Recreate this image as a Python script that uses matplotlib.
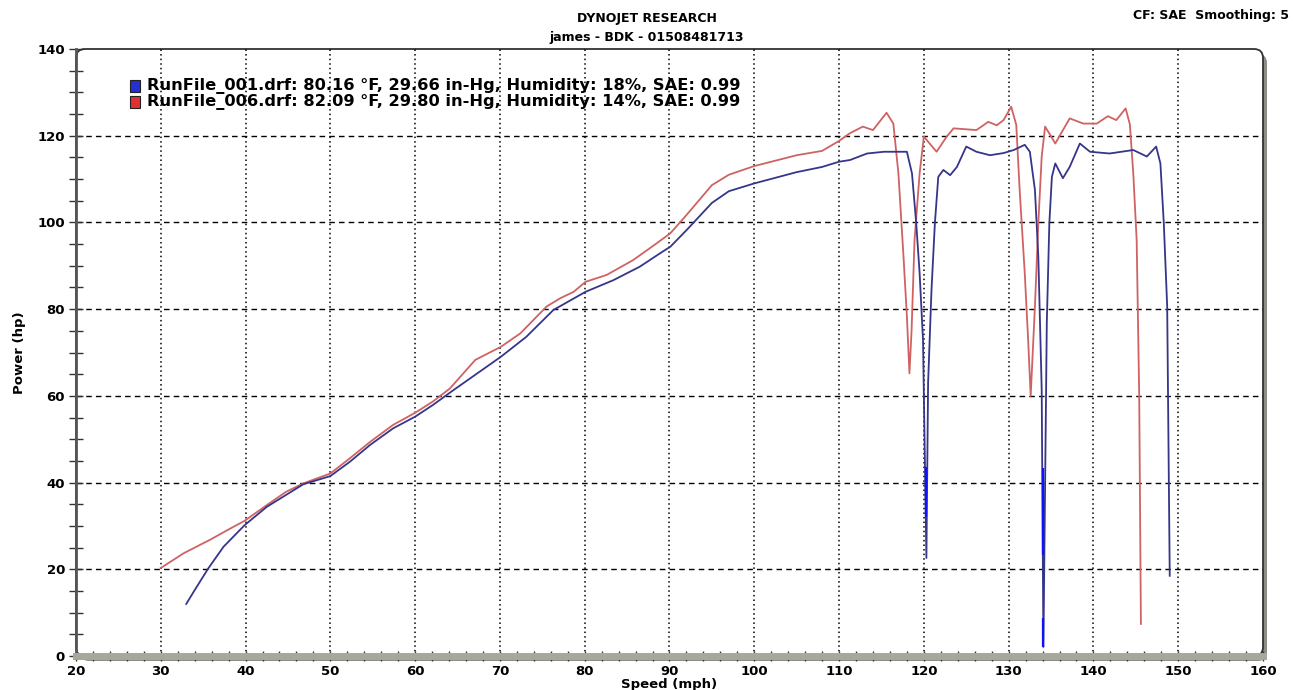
import matplotlib
matplotlib.use('Agg')
import matplotlib.pyplot as plt
from matplotlib.patches import FancyBboxPatch, Rectangle
from matplotlib.transforms import IdentityTransform

# RunFile_001 (blue)
speed_001 = [33.0, 34.0, 35.6, 37.4, 39.9, 42.5, 46.8, 50.0, 52.3, 54.7, 57.4, 60.0, 62.1,
             64.5, 70.1, 73.1, 76.3, 80.1, 83.4, 86.5, 88.9, 90.1, 92.0, 95.0, 97.0, 100.0,
             105.0, 108.0, 110.0, 111.3, 113.3, 115.3, 118.0, 118.6, 119.1, 119.5, 119.9,
             120.3, 120.5, 120.9, 121.3, 121.7, 122.3, 123.1, 123.9, 125.0, 126.2, 127.8,
             129.4, 130.6, 131.9, 132.5, 133.1, 133.5, 133.7, 133.9, 134.1, 134.5, 134.8,
             135.1, 135.5, 136.4, 137.2, 138.4, 139.6, 141.9, 144.7, 146.3, 147.4, 147.9,
             148.3, 148.7, 149.0]
power_001 = [12.0, 15.2, 20.2, 25.2, 30.2, 34.4, 39.6, 41.5, 44.8, 48.7, 52.5, 55.2, 57.9,
             61.3, 69.0, 73.6, 79.8, 84.0, 86.7, 89.8, 92.9, 94.4, 98.2, 104.5, 107.2, 109.0,
             111.6, 112.8, 114.0, 114.4, 115.9, 116.3, 116.3, 111.3, 99.8, 88.3, 72.9,
             22.6, 63.0, 84.4, 99.8, 110.5, 112.1, 110.9, 112.8, 117.5, 116.3, 115.5,
             116.0, 116.7, 117.9, 116.3, 107.5, 92.1, 76.8, 61.3, 2.1, 76.8, 99.8,
             110.5, 113.6, 110.2, 112.8, 118.2, 116.3, 115.9, 116.7, 115.2, 117.5, 113.6,
             99.8, 80.6, 18.5]

# bright blue stretches on the steep parts of run 001
hilite_speed = [120.3, 134.0, 134.1]
hilite_low = [32.1, 23.3, 2.1]
hilite_high = [43.7, 43.4, 8.8]

# RunFile_006 (red)
speed_006 = [30.0, 32.7, 35.8, 38.2, 39.9, 42.5, 44.8, 46.8, 50.0, 52.3, 54.7, 57.4, 60.0,
             62.1, 64.1, 67.1, 70.1, 72.4, 75.5, 77.1, 78.7, 80.1, 82.6, 85.7, 88.5, 90.1,
             92.0, 95.0, 97.0, 100.0, 105.0, 108.0, 110.0, 111.3, 112.8, 114.0, 115.6,
             116.4, 117.0, 117.6, 118.0, 118.3, 118.55, 118.9, 119.5, 120.0, 120.3, 121.5,
             122.7, 123.5, 126.2, 127.6, 128.6, 129.4, 130.3, 130.9, 131.3, 131.9, 132.3,
             132.6, 133.1, 133.5, 133.9, 134.3, 134.9, 135.5, 137.2, 138.8, 140.4, 141.7,
             142.7, 143.8, 144.3, 144.7, 145.1, 145.4, 145.6]
power_006 = [20.3, 23.7, 26.8, 29.4, 31.2, 34.8, 37.9, 39.8, 42.1, 45.6, 49.4, 53.3, 56.1,
             58.7, 61.7, 68.3, 71.3, 74.4, 80.6, 82.5, 84.0, 86.3, 87.9, 91.3, 95.2, 97.5,
             101.7, 108.6, 111.0, 113.0, 115.5, 116.5, 118.8, 120.6, 122.1, 121.3, 125.3,
             122.8, 111.3, 92.1, 78.3, 65.2, 75.0, 95.9, 111.3, 119.8, 119.1, 116.3,
             119.8, 121.7, 121.3, 123.2, 122.4, 123.6, 126.7, 122.5, 107.5, 88.3, 72.9,
             60.0, 80.6, 99.8, 115.2, 122.1, 120.2, 118.2, 124.0, 122.8, 122.8, 124.5,
             123.6, 126.3, 122.6, 111.3, 95.9, 60.0, 7.4]

legend_labels = ['RunFile_001.drf: 80.16 \u00b0F, 29.66 in-Hg, Humidity: 18%, SAE: 0.99',
                 'RunFile_006.drf: 82.09 \u00b0F, 29.80 in-Hg, Humidity: 14%, SAE: 0.99']

fig = plt.figure(figsize=(12.93, 6.90), dpi=100)
ax = fig.add_axes([76 / 1293, 34 / 690, 1187 / 1293, 607 / 690])
ax.patch.set_visible(False)

# rounded frame with a grey drop shadow, drawn in pixel coordinates
shadow = FancyBboxPatch((80, 29), 1187, 607, boxstyle='round,pad=0,rounding_size=9',
                        facecolor='#8e8d85', edgecolor='none', transform=IdentityTransform(), zorder=-2)
frame = FancyBboxPatch((76, 34), 1187, 607, boxstyle='round,pad=0,rounding_size=9',
                       facecolor='white', edgecolor='#333333', linewidth=1.3,
                       transform=IdentityTransform(), zorder=-1)
fig.add_artist(shadow)
fig.add_artist(frame)

ax.set_xlim(20, 160)
ax.set_ylim(0, 140)
ax.spines['top'].set_visible(False)
ax.spines['right'].set_visible(False)
ax.spines['left'].set_color('#555555')
ax.spines['left'].set_linewidth(2)
ax.spines['bottom'].set_color('#a8a79c')
ax.spines['bottom'].set_linewidth(5)

ax.set_xticks(range(20, 161, 10))
ax.set_xticks(range(20, 161, 2), minor=True)
ax.set_yticks(range(0, 141, 20))
ax.set_yticks(range(0, 141, 5), minor=True)
ax.tick_params(axis='x', which='both', direction='inout', length=7, width=1, color='#333333',
               labelsize=9.5, pad=3)
ax.tick_params(axis='y', which='both', direction='inout', length=10, width=1, color='#333333',
               labelsize=9.5, pad=3)
for lab in ax.get_xticklabels() + ax.get_yticklabels():
    lab.set_fontweight('bold')

# grid: dotted verticals, dashed horizontals
for x in range(30, 151, 10):
    ax.axvline(x, color='black', linewidth=1.1, linestyle=(0, (1, 2)), zorder=1)
for y in range(20, 121, 20):
    ax.axhline(y, color='black', linewidth=1, linestyle=(0, (4, 3)), zorder=1)

ax.plot(speed_006, power_006, color='#cf6262', linewidth=1.3, zorder=3)
ax.plot(speed_001, power_001, color='#35358a', linewidth=1.3, zorder=4)
ax.vlines(hilite_speed, hilite_low, hilite_high, color='#1010ff', linewidth=1.6, zorder=5)

# legend entries
for i, (lab, col) in enumerate(zip(legend_labels, ['#2630d0', '#e03030'])):
    yy = 0.939 - i * 0.027
    ax.add_patch(Rectangle((0.0455, yy - 0.01), 0.0085, 0.02, transform=ax.transAxes,
                           facecolor=col, edgecolor='#222222', linewidth=0.8, zorder=5))
    ax.text(0.0595, yy, lab, transform=ax.transAxes, fontsize=11.7, fontweight='bold',
            va='center', ha='left', zorder=5)

ax.set_xlabel('Speed (mph)', fontsize=9.5, fontweight='bold', labelpad=0)
ax.set_ylabel('Power (hp)', fontsize=9.5, fontweight='bold', labelpad=8)

fig.text(0.5, 0.973, 'DYNOJET RESEARCH', ha='center', va='center', fontsize=9, fontweight='bold')
fig.text(0.5, 0.946, 'james - BDK - 01508481713', ha='center', va='center', fontsize=9, fontweight='bold')
fig.text(0.997, 0.977, 'CF: SAE  Smoothing: 5', ha='right', va='center', fontsize=9, fontweight='bold')

fig.savefig('out.png', dpi=100)
